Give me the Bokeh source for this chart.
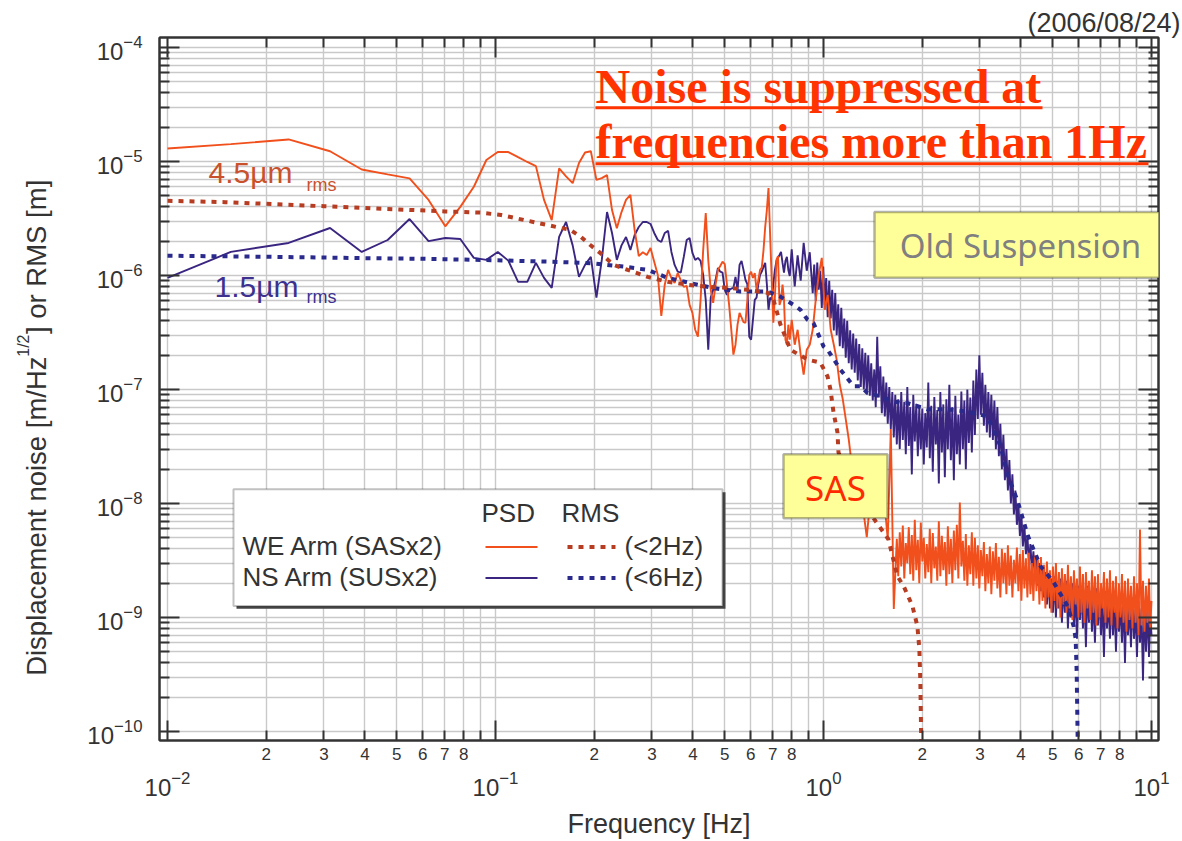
import numpy as np
from bokeh.plotting import figure
from bokeh.layouts import row
from bokeh.models import (Range1d, LogAxis, FixedTicker, LogTickFormatter, Title,
                          CustomJSTickFormatter, Label, BoxAnnotation, ColumnDataSource)
from bokeh.embed import file_html
from bokeh.resources import INLINE

# ---------------- data: frequency [Hz], amplitudes in nm (1e-9 m) ----------------
freq_lo = [0.01, 0.0156, 0.0234, 0.0313, 0.0391, 0.0469, 0.0547, 0.0625, 0.0703, 0.0781,
           0.0859, 0.0938, 0.1016, 0.1094, 0.1172, 0.125, 0.1328, 0.1406, 0.1484, 0.1563,
           0.1641, 0.1719, 0.1797, 0.1875, 0.1953, 0.2031, 0.2109, 0.2188, 0.2266, 0.2344,
           0.2422, 0.25, 0.2578, 0.2656, 0.2734, 0.2813, 0.2891, 0.2969, 0.3047, 0.3125,
           0.3203, 0.3281, 0.3359, 0.3438, 0.3516, 0.3594, 0.3672, 0.375, 0.3828, 0.3906,
           0.3984, 0.4063, 0.4141, 0.4219, 0.4297, 0.4375, 0.4453, 0.4531, 0.4609, 0.4688,
           0.4766, 0.4844, 0.4922, 0.5, 0.5078, 0.5156, 0.5234, 0.5313, 0.5391, 0.5469,
           0.5547, 0.5625, 0.5703, 0.5781, 0.5859, 0.5938, 0.6016, 0.6094, 0.6172, 0.625,
           0.6328, 0.6406, 0.6484, 0.6563, 0.6641, 0.6719, 0.6797, 0.6875, 0.6953, 0.7031,
           0.7109, 0.7188, 0.7266, 0.7344, 0.7422, 0.75, 0.7578, 0.7656, 0.7734, 0.7813,
           0.7891]

we_psd_lo = [13000, 14200, 15600, 12300, 8500, 7700, 7100, 4600, 2700, 4000,
             6000, 10300, 12100, 12100, 10900, 9900, 9100, 4600, 3060, 8700,
             7400, 6450, 9700, 12000, 12300, 6900, 7150, 7600, 3750, 2600,
             3600, 4600, 5100, 2500, 1480, 1600, 1510, 1740, 1320, 1010,
             443, 830, 1120, 950, 860, 1050, 910, 795, 810, 553,
             470, 334, 290, 610, 1670, 3530, 1370, 750, 576, 830,
             1120, 1210, 1320, 1260, 830, 550, 335, 202, 247, 370,
             470, 430, 390, 385, 610, 1010, 1080, 950, 1050, 750,
             910, 1120, 1170, 1670, 2660, 3750, 5850, 2260, 910, 385,
             650, 1370, 1480, 550, 610, 830, 610, 273, 247, 370,
             273]

ns_psd_lo = [953, 1610, 1928, 2610, 1610, 2048, 3126, 2000, 2130, 2090,
             1426, 1370, 1610, 1350, 879, 879, 1290, 953, 779, 2178,
             2944, 1837, 972, 1238, 1455, 640, 1370, 3606, 2360, 1370,
             1837, 2178, 1676, 2268, 2661, 2944, 2944, 2830, 2360, 2048,
             1968, 2360, 2460, 1610, 1238, 1080, 1060, 1455, 2048, 2130,
             1580, 1370, 1426, 1342, 1012, 612, 223, 640, 748, 916,
             1166, 1080, 1060, 748, 676, 748, 765, 779, 972, 748,
             1238, 1342, 1119, 916, 838, 290, 273, 409, 612, 640,
             838, 1012, 1080, 1189, 1290, 838, 500, 640, 612, 838,
             1119, 1342, 1426, 1514, 1610, 1290, 1060, 1342, 1455, 1119,
             990]

freq_hi = [0.800, 0.817, 0.834, 0.852, 0.870, 0.889, 0.908, 0.927, 0.947, 0.967,
           0.988, 1.009, 1.030, 1.052, 1.075, 1.097, 1.121, 1.145, 1.169, 1.194,
           1.219, 1.245, 1.272, 1.299, 1.327, 1.355, 1.384, 1.413, 1.443, 1.474,
           1.506, 1.538, 1.570, 1.604, 1.638, 1.673, 1.708, 1.745, 1.782, 1.820,
           1.859, 1.898, 1.939, 1.980, 2.022, 2.065, 2.109, 2.154, 2.200, 2.247,
           2.295, 2.344, 2.394, 2.445, 2.497, 2.550, 2.604, 2.660, 2.716, 2.774,
           2.833, 2.894, 2.955, 3.018, 3.083, 3.148, 3.215, 3.284, 3.354, 3.425,
           3.498, 3.573, 3.649, 3.726, 3.806, 3.887, 3.970, 4.054, 4.141, 4.229,
           4.319, 4.411, 4.505, 4.601, 4.699, 4.799, 4.901, 5.005, 5.112, 5.221,
           5.332, 5.446, 5.562, 5.680, 5.801, 5.925, 6.051, 6.180, 6.311, 6.446,
           6.583, 6.723, 6.866, 7.013, 7.162, 7.315, 7.470, 7.630, 7.792, 7.958,
           8.128, 8.301, 8.478, 8.658, 8.843, 9.031, 9.223, 9.420, 9.620, 9.825,
           10.0]

# extra frequencies between the points above (dense noise band)
freq_mid = [0.937, 0.957, 0.977,
            0.998, 1.019, 1.041, 1.063, 1.086, 1.109, 1.133, 1.157, 1.181, 1.206,
            1.232, 1.258, 1.285, 1.313, 1.341, 1.369, 1.398, 1.428, 1.458, 1.490,
            1.522, 1.554, 1.587, 1.621, 1.655, 1.690, 1.726, 1.763, 1.801, 1.839,
            1.878, 1.918, 1.959, 2.001, 2.043, 2.087, 2.131, 2.177, 2.223, 2.271,
            2.319, 2.369, 2.419, 2.471, 2.523, 2.577, 2.632, 2.688, 2.745, 2.803,
            2.863, 2.924, 2.986, 3.050, 3.115, 3.181, 3.249, 3.319, 3.389, 3.461,
            3.535, 3.611, 3.687, 3.766, 3.846, 3.928, 4.012, 4.097, 4.185, 4.274,
            4.365, 4.458, 4.553, 4.650, 4.749, 4.850, 4.953, 5.058, 5.166, 5.276,
            5.389, 5.504, 5.621, 5.740, 5.863, 5.988, 6.115, 6.245, 6.378, 6.514,
            6.653, 6.794, 6.939, 7.087, 7.238, 7.392, 7.550, 7.711, 7.875, 8.043,
            8.214, 8.389, 8.568, 8.750, 8.937, 9.127, 9.321, 9.520, 9.722, 9.912]

# WE arm: sparse part on freq_hi[0..35], then dense band from freq_hi[35] on the merged grid
we_psd_hi = [409, 247, 334, 202, 135, 223, 247, 334, 612, 1012,
             1426, 500, 676, 334, 247, 183, 110, 82, 55, 36.5,
             22, 12, 10.9, 9.8, 8.05, 5.06, 9.8, 11.3, 8.9, 10.2,
             8.5, 9.3, 4.86, 45, 1.19, 4.9]
we_band = [4.9, 2.3, 5.6, 2.8, 6.4, 2.2, 4.5, 3.0, 6.2, 2.4,
           5.3, 2.1, 7.2, 2.6, 4.8, 2.0, 6.8, 3.1, 5.0, 2.2,
           4.4, 2.5, 6.0, 2.0, 5.5, 2.7, 4.2, 2.1, 7.0, 2.3,
           5.2, 2.6, 4.6, 1.9, 6.3, 2.4, 4.9, 2.0, 5.8, 2.6,
           6.5, 2.2, 10.2, 2.8, 4.7, 2.1, 5.4, 1.9, 4.3, 2.4,
           5.6, 1.9, 5.0,
           2.2, 4.3, 1.8, 3.9, 2.3, 4.6, 1.7, 3.6, 2.0, 4.2,
           1.6, 3.8, 2.1, 4.5, 1.8, 3.4, 1.5, 4.0, 2.0, 3.7,
           1.6, 4.3, 1.9, 3.5, 1.5, 3.2, 2.0, 4.1, 1.7, 3.6,
           1.4, 3.9, 1.8, 3.3, 1.5, 3.7, 1.6, 3.0, 1.4, 3.5,
           1.7, 3.2, 1.3, 3.4,
           1.4, 2.9, 1.2, 3.1, 1.5, 2.6, 1.1, 2.8, 1.4, 3.0,
           1.2, 2.5, 1.0, 2.7, 1.3, 2.4, 1.1, 2.9, 1.2, 2.3,
           0.95, 2.6, 1.3, 2.2, 1.0, 2.8, 1.1, 2.4, 0.9, 2.5,
           1.2, 2.1, 0.95, 2.6, 1.1, 2.3, 0.85, 2.4, 1.0, 2.0,
           1.2, 2.5, 0.9, 2.2, 1.0, 2.6, 0.85, 2.1, 1.1, 2.3,
           0.8, 2.0, 1.0, 2.4, 0.9, 2.1, 0.75, 2.2, 0.95, 1.9,
           0.8, 2.3, 0.9, 2.0, 0.7, 5.9, 0.85, 2.1, 0.75, 1.9,
           0.9, 2.2, 0.8, 1.4]

# NS arm: sparse part on freq_hi[0..7], then dense band from freq_hi[7] on the merged grid
ns_psd_hi = [1700, 800, 1500, 900, 1930, 1100, 1600, 700]
ns_band = [700, 1250, 600, 1300, 750, 1100, 520, 1200, 550, 950,
           430, 900, 420, 750, 330, 700, 300, 560, 240, 520,
           230, 420, 190, 400, 170, 330, 150, 310, 140, 280,
           120, 250, 105, 230, 100, 210, 92, 200, 88, 170,
           80, 150, 70, 290, 85, 160, 62, 130, 58, 115,
           50, 105, 45, 95, 38, 90, 33, 82, 30, 95,
           36, 78, 27, 105, 32, 70, 18, 90, 35, 75,
           26, 70, 30, 68, 22, 62, 31, 115, 25, 72,
           19, 86, 33, 66, 15, 95, 28, 74, 17, 82,
           30, 110, 24, 70, 16, 88, 27, 60, 22, 96,
           30, 80, 20, 100, 34, 85, 28, 120, 40, 150,
           55, 200, 60, 140, 48, 110, 42, 95, 38, 90,
           36, 80, 30, 70, 26, 50, 20, 40, 16, 30,
           13, 24, 10, 18, 8.0, 13, 6.5, 10, 5.2, 8.0,
           4.2, 6.5, 3.6, 5.2, 3.0, 4.4, 2.6, 3.8, 2.2, 3.3,
           1.9, 3.0, 1.7, 2.7, 1.5, 2.5, 1.3, 2.4, 1.2, 2.2,
           1.1, 2.3, 1.0, 2.1, 1.2, 2.2, 0.9, 1.9, 1.1, 2.1,
           0.8, 1.8, 1.0, 2.0, 0.85, 1.7, 0.65, 1.9, 0.95, 1.8,
           0.8, 1.6, 0.55, 1.9, 0.9, 1.7, 0.75, 1.5, 0.6, 1.8,
           0.85, 1.6, 0.7, 1.5, 0.45, 1.7, 0.8, 1.4, 0.65, 1.6,
           0.7, 1.4, 0.5, 1.5, 0.75, 1.3, 0.6, 1.5, 0.4, 1.4,
           0.7, 1.3, 0.55, 1.5, 0.65, 1.2, 0.45, 1.4, 0.6, 1.2,
           0.28, 1.3, 0.5, 1.2, 0.45, 1.0, 0.7]

we_rms_freq = [0.01, 0.015, 0.02, 0.03, 0.05, 0.07, 0.09, 0.104, 0.122, 0.144,
               0.169, 0.182, 0.195, 0.209, 0.229, 0.253, 0.291, 0.335, 0.385, 0.443,
               0.51, 0.587, 0.675, 0.704, 0.739, 0.793, 0.894, 0.979, 1.029, 1.05,
               1.073, 1.103, 1.111, 1.2, 1.3, 1.441, 1.577, 1.68, 1.753, 1.867,
               1.933, 1.96, 1.974, 2.0]
we_rms = [4520, 4400, 4250, 4050, 3800, 3650, 3560, 3390, 3070, 2770,
          2510, 2180, 1840, 1570, 1240, 1120, 972, 880, 830, 795,
          780, 748, 705, 612, 372, 223, 183, 172, 130, 100,
          63, 42, 28, 16, 11, 7.0, 4.86, 2.3, 1.9, 1.26,
          0.84, 0.53, 0.27, 0.02]

ns_rms_freq = [0.01, 0.02, 0.04, 0.06, 0.09, 0.144, 0.195, 0.246, 0.291, 0.335,
               0.393, 0.462, 0.558, 0.675, 0.739, 0.81, 0.851, 0.894, 0.932, 1.0,
               1.029, 1.127, 1.235, 1.297, 1.362, 1.492, 1.567, 1.717, 1.803, 2.074,
               2.387, 2.746, 3.16, 3.463, 3.638, 3.908, 4.198, 4.586, 5.024, 5.548,
               5.79, 5.872, 5.914, 6.0]
ns_rms = [1490, 1460, 1420, 1400, 1370, 1324, 1282, 1197, 1119, 953,
          857, 774, 723, 723, 653, 553, 500, 409, 383, 239,
          223, 149, 107, 107, 93, 87, 82, 76, 76, 67,
          67, 64, 58, 32, 18, 10.5, 5.2, 2.83, 2.05, 1.26,
          0.84, 0.65, 0.33, 0.02]

x_decades = [0.01, 0.1, 1.0, 10.0]
y_decades = [1e-10, 1e-9, 1e-8, 1e-7, 1e-6, 1e-5, 1e-4]
minor_mult = [2, 3, 4, 5, 6, 7, 8, 9]
NM = 1e-9

# ---------------- layout (page pixels) ----------------
W, H = 1182, 841
LW = 60                      # width of the strip holding the y title
FL, FR, FT, FB = 159, 1158, 37, 742
PPD_X, PPD_Y = 328.0, 114.33
XLOG0 = -2 - 8 / PPD_X
YLOG_TOP = -4 + 10 / PPD_Y


def px_x(px):
    return 10 ** (XLOG0 + (px - FL) / PPD_X)


def px_y(py):
    return 10 ** (YLOG_TOP - (py - FT) / PPD_Y)


TXT = "#333333"
ORANGE = "#f14f1c"
BLUE = "#3a2580"
ORANGE_RMS = "#b63c22"
BLUE_RMS = "#2a2a8c"
GRID = "#c9c9c9"
FONT = "Liberation Sans"

x_minors = [m * d for d in x_decades[:-1] for m in minor_mult]
y_minors = [m * d for d in y_decades[:-1] for m in minor_mult]

p = figure(width=W - LW, height=H, x_axis_type="log", y_axis_type="log",
           x_range=Range1d(px_x(FL), px_x(FR)), y_range=Range1d(px_y(FB), px_y(FT)),
           output_backend="svg", toolbar_location=None, title=None,
           min_border_left=FL - LW, min_border_right=W - FR,
           min_border_top=FT, min_border_bottom=H - FB)
p.background_fill_color = "white"
p.border_fill_color = "white"
p.outline_line_color = TXT
p.outline_line_width = 2

# grids
p.xgrid.ticker = FixedTicker(ticks=x_decades, minor_ticks=x_minors)
p.ygrid.ticker = FixedTicker(ticks=y_decades, minor_ticks=y_minors)
for g in (p.xgrid, p.ygrid):
    g.grid_line_color = GRID
    g.grid_line_width = 1.4
    g.minor_grid_line_color = GRID
    g.minor_grid_line_width = 1.4


def style_ticks(ax, major_in, minor_in):
    ax.axis_line_color = TXT
    ax.axis_line_width = 2
    ax.major_tick_in = major_in
    ax.major_tick_out = 0
    ax.minor_tick_in = minor_in
    ax.minor_tick_out = 0
    ax.major_tick_line_color = TXT
    ax.minor_tick_line_color = TXT
    ax.major_tick_line_width = 2
    ax.minor_tick_line_width = 2
    ax.major_label_text_color = TXT
    ax.major_label_text_font = FONT


# bottom axis: numbered minor ticks (2..8), decade ticks as long minor ticks
xa = p.xaxis[0]
xa.ticker = FixedTicker(ticks=x_minors, minor_ticks=x_decades)
xa.formatter = CustomJSTickFormatter(code="""
const e = Math.floor(Math.log10(tick) + 1e-6);
const m = Math.round(tick / Math.pow(10, e));
return m >= 9 ? "" : String(m);
""")
style_ticks(xa, 10, 20)
xa.major_label_text_font_size = "17px"
xa.major_label_standoff = 7

# second bottom axis: decade labels 10^n and the axis title
xb = LogAxis(ticker=FixedTicker(ticks=x_decades, minor_ticks=[]), formatter=LogTickFormatter())
xb.axis_line_color = None
xb.major_tick_line_color = None
xb.minor_tick_line_color = None
xb.major_label_text_font = FONT
xb.major_label_text_font_size = "24px"
xb.major_label_text_color = TXT
xb.major_label_standoff = 2
xb.axis_label = "Frequency [Hz]"
xb.axis_label_text_font = FONT
xb.axis_label_text_font_size = "27px"
xb.axis_label_text_font_style = "normal"
xb.axis_label_text_color = TXT
xb.axis_label_standoff = 10
p.add_layout(xb, "below")

# left axis
ya = p.yaxis[0]
ya.ticker = FixedTicker(ticks=y_decades, minor_ticks=y_minors)
ya.formatter = LogTickFormatter()
style_ticks(ya, 20, 10)
ya.major_label_text_font_size = "24px"
ya.major_label_standoff = 17

blank = CustomJSTickFormatter(code="return '';")
xt = LogAxis(ticker=FixedTicker(ticks=x_decades, minor_ticks=x_minors), formatter=blank)
style_ticks(xt, 20, 10)
xt.major_label_text_font_size = "1px"
xt.major_label_standoff = 0
p.add_layout(xt, "above")
yr = LogAxis(ticker=FixedTicker(ticks=y_decades, minor_ticks=y_minors), formatter=blank)
style_ticks(yr, 20, 10)
yr.major_label_text_font_size = "1px"
yr.major_label_standoff = 0
p.add_layout(yr, "right")

# date stamp above the frame
p.add_layout(Title(text="(2006/08/24)", align="right", offset=-22, standoff=0,
                   text_font=FONT, text_font_size="27px", text_font_style="normal",
                   text_color=TXT), "above")

# legend box (under the glyphs)
p.add_layout(BoxAnnotation(left=px_x(236), right=px_x(725), top=px_y(493), bottom=px_y(610),
                           fill_color="#444444", fill_alpha=1, line_color=None, level="underlay"))
p.add_layout(BoxAnnotation(left=px_x(233), right=px_x(722), top=px_y(490), bottom=px_y(607),
                           fill_color="white", fill_alpha=1, line_color=TXT, line_width=2,
                           level="underlay"))

# data series
grid = sorted(freq_hi + freq_mid)
we_band_f = [f for f in grid if f >= freq_hi[35]]
ns_band_f = [f for f in grid if f >= freq_hi[7]]
we_f = freq_lo + freq_hi[:35] + we_band_f[:len(we_band)]
we_v = we_psd_lo + we_psd_hi[:35] + we_band[:len(we_band_f)]
ns_f = freq_lo + freq_hi[:7] + ns_band_f[:len(ns_band)]
ns_v = ns_psd_lo + ns_psd_hi[:7] + ns_band[:len(ns_band_f)]


def src(f, v):
    n = min(len(f), len(v))
    return ColumnDataSource(dict(f=f[:n], v=np.array(v[:n]) * NM))


p.line("f", "v", source=src(ns_f, ns_v), line_color=BLUE, line_width=1.9)
p.line("f", "v", source=src(we_f, we_v), line_color=ORANGE, line_width=1.9)
p.line("f", "v", source=src(ns_rms_freq, ns_rms), line_color=BLUE_RMS, line_width=4, line_dash="5 6")
p.line("f", "v", source=src(we_rms_freq, we_rms), line_color=ORANGE_RMS, line_width=4, line_dash="5 6")

# legend samples
p.line([px_x(485), px_x(537)], [px_y(548), px_y(548)], line_color=ORANGE, line_width=2)
p.line([px_x(485), px_x(537)], [px_y(579), px_y(579)], line_color=BLUE, line_width=2)
p.line([px_x(567), px_x(615)], [px_y(548), px_y(548)], line_color=ORANGE_RMS, line_width=4, line_dash="5 6")
p.line([px_x(567), px_x(615)], [px_y(579), px_y(579)], line_color=BLUE_RMS, line_width=4, line_dash="5 6")


def label(px, py, text, size, color=TXT, font=FONT, align="left", style="normal"):
    p.add_layout(Label(x=px_x(px), y=px_y(py), text=text, text_font=font,
                       text_font_size=size, text_color=color, text_align=align,
                       text_baseline="middle", text_font_style=style))


for txt, x0, y0 in [("PSD", 481, 514), ("RMS", 561, 514),
                    ("WE Arm (SASx2)", 242, 547), ("NS Arm (SUSx2)", 242, 578),
                    ("(<2Hz)", 624, 547), ("(<6Hz)", 624, 578)]:
    label(x0, y0, txt, "26px")

# curve annotations
label(208, 172, "4.5\u00b5m", "30px", color="#c9512c")
label(306, 185, "rms", "18px", color="#c9512c")
label(214, 287, "1.5\u00b5m", "30px", color="#3d3190")
label(306, 297, "rms", "18px", color="#3d3190")

# headline with underline
RED = "#ff3300"
label(595, 86, "Noise is suppressed at", "48px", color=RED, font="Liberation Serif", style="bold")
label(595, 141, "frequencies more than 1Hz", "48px", color=RED, font="Liberation Serif", style="bold")
p.add_layout(BoxAnnotation(left=px_x(595), right=px_x(1042), top=px_y(106), bottom=px_y(109),
                           fill_color=RED, fill_alpha=1, line_color=None))
p.add_layout(BoxAnnotation(left=px_x(595), right=px_x(1148), top=px_y(162), bottom=px_y(165),
                           fill_color=RED, fill_alpha=1, line_color=None))

# yellow boxes
p.add_layout(BoxAnnotation(left=px_x(874), right=px_x(1167), top=px_y(212), bottom=px_y(278),
                           fill_color="#ffff99", fill_alpha=1, line_color="black", line_width=2.5))
label(1020, 246, "Old Suspension", "33px", color="#808080", font="Noto Sans", align="center")
p.add_layout(BoxAnnotation(left=px_x(783), right=px_x(887), top=px_y(455), bottom=px_y(519),
                           fill_color="#ffff99", fill_alpha=1, line_color="black", line_width=2.5))
label(835, 488, "SAS", "35px", color="#ff2a00", font="Noto Sans", align="center")

# ---------------- strip on the left with the y title ----------------
# its frame is aligned with the main frame (page y 37..742), so data y = page y
left = figure(width=LW, height=H, x_range=Range1d(0, LW), y_range=Range1d(FB, FT),
              output_backend="svg", toolbar_location=None, title=None,
              x_axis_location=None, y_axis_location=None, min_border=0)
left.outline_line_color = None
left.background_fill_color = "white"
left.border_fill_color = "white"
left.xgrid.visible = False
left.ygrid.visible = False
for txt, x0, y0, size in [("Displacement noise [m/Hz", 36, 517, "27.5px"),
                          ("1/2", 23, 346, "16px"),
                          ("] or RMS [m]", 36, 257, "27.5px")]:
    left.add_layout(Label(x=x0, y=y0, text=txt, text_font=FONT, text_font_size=size,
                          text_color=TXT, text_align="center", text_baseline="middle",
                          angle=np.pi / 2))

open("out.html", "w").write(file_html(row(left, p), INLINE))
